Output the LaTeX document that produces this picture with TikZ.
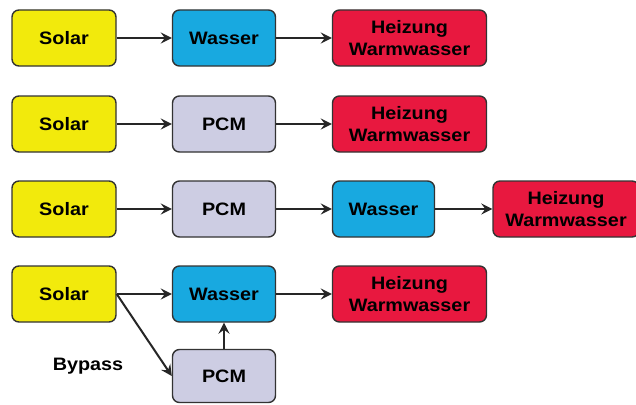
\documentclass[tikz,border=0pt]{standalone}
\usepackage{fontspec}
\setmainfont{Liberation Sans}[FakeStretch=1.1]
\usetikzlibrary{arrows.meta}
\definecolor{cyel}{HTML}{F2EA0C}
\definecolor{cblu}{HTML}{18A9E0}
\definecolor{cred}{HTML}{E8183F}
\definecolor{cpcm}{HTML}{CDCDE3}
\definecolor{cbrd}{HTML}{333333}
\tikzset{
  box/.style={draw=cbrd, line width=1.4pt, rounded corners=7pt, minimum height=56pt,
    inner sep=0pt, font=\fontsize{18}{22}\selectfont\bfseries, align=center},
  solar/.style={box, fill=cyel, minimum width=104pt},
  wasser/.style={box, fill=cblu, minimum width=103pt},
  pcm/.style={box, fill=cpcm, minimum width=103pt},
  heiz/.style={box, fill=cred, minimum width=154pt},
  conn/.style={draw=black!85, line width=2pt, -{Stealth[length=11pt,width=11pt,inset=4pt]}},
}
\begin{document}
\begin{tikzpicture}[x=1pt,y=-1pt]
\useasboundingbox (0,0) rectangle (636,404);
\fill[white] (0,0) rectangle (636,404);
\begin{scope}
\clip (0,0) rectangle (636,404);
% row 1
\node[solar] (s1) at (64,38) {Solar};
\node[wasser] (w1) at (224,38) {Wasser};
\node[heiz] (h1) at (409.5,38) {Heizung\\Warmwasser};
% row 2
\node[solar] (s2) at (64,124) {Solar};
\node[pcm] (p2) at (224,124) {PCM};
\node[heiz] (h2) at (409.5,124) {Heizung\\Warmwasser};
% row 3
\node[solar] (s3) at (64,209) {Solar};
\node[pcm] (p3) at (224,209) {PCM};
\node[wasser, minimum width=102pt] (w3) at (383.5,209) {Wasser};
\node[heiz, minimum width=146pt] (h3) at (566,209) {Heizung\\Warmwasser};
% row 4
\node[solar] (s4) at (64,294) {Solar};
\node[wasser] (w4) at (224,294) {Wasser};
\node[heiz] (h4) at (409.5,294) {Heizung\\Warmwasser};
\node[pcm, minimum height=53pt] (p4) at (224,376) {PCM};
\node[font=\fontsize{18}{22}\selectfont\bfseries] (by) at (88,366) {Bypass};
\end{scope}
% connectors
\draw[conn] (s1) -- (w1);
\draw[conn] (w1) -- (h1);
\draw[conn] (s2) -- (p2);
\draw[conn] (p2) -- (h2);
\draw[conn] (s3) -- (p3);
\draw[conn] (p3) -- (w3);
\draw[conn] (w3) -- (h3);
\draw[conn] (s4.east) -- (w4.west);
\draw[conn] (w4) -- (h4);
\draw[conn] (s4.east) -- (p4.west);
\draw[conn] (p4) -- (w4);
\end{tikzpicture}
\end{document}
